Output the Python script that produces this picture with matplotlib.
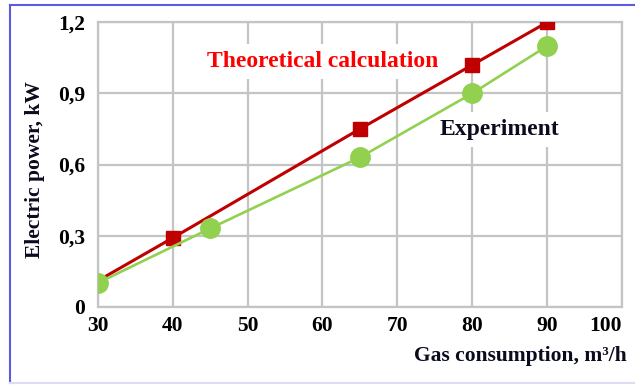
import matplotlib
matplotlib.use("Agg")
import matplotlib.pyplot as plt
from matplotlib.lines import Line2D

# gas consumption (m3/h) vs electric power (kW)
theory_x = [29.5, 40, 65, 80, 90]
theory_y = [0.10, 0.29, 0.75, 1.02, 1.20]
exp_x = [30, 45, 65, 80, 90]
exp_y = [0.10, 0.33, 0.63, 0.90, 1.10]

x_ticks = [30, 40, 50, 60, 70, 80, 90, 100]
y_ticks = [0, 0.3, 0.6, 0.9, 1.2]
y_labels = ["0", "0,3", "0,6", "0,9", "1,2"]

serif = ["Liberation Serif", "DejaVu Serif"]
plt.rcParams["font.family"] = serif
plt.rcParams["font.weight"] = "bold"

fig = plt.figure(figsize=(6.35, 3.85), dpi=100)
ax = fig.add_axes([0.1539, 0.2034, 0.8256, 0.7386])

ax.plot(theory_x, theory_y, color="#c00000", lw=2.2, marker="s",
        ms=10.3, mec="#c00000", mfc="#c00000", zorder=3)
ax.plot(exp_x, exp_y, color="#92d050", lw=1.9, marker="o",
        ms=14, mec="#92d050", mfc="#92d050", zorder=4)

ax.set_xlim(30, 100)
ax.set_ylim(0, 1.2)
ax.set_xticks(x_ticks)
ax.set_yticks(y_ticks)
ax.set_yticklabels(y_labels)
ax.tick_params(length=0, labelsize=15.5)
ax.tick_params(axis="x", pad=7)
ax.tick_params(axis="y", pad=9)
for lab in ax.get_xticklabels() + ax.get_yticklabels():
    lab.set_fontweight("bold")
# last label pulled inside so it isn't clipped
ax.get_xticklabels()[-1].set_horizontalalignment("right")

ax.grid(True, color="#c4c4c4", lw=1.6)
ax.set_axisbelow(True)
for s in ax.spines.values():
    s.set_color("#c4c4c4")
    s.set_linewidth(1.6)

ax.text(44.6, 1.034, "Theoretical calculation", color="#ff0000",
        fontsize=17, fontweight="bold", va="center", ha="left",
        bbox=dict(facecolor="white", edgecolor="none", pad=5), zorder=2)
ax.text(75.6, 0.747, "Experiment", color="#0b0b1e",
        fontsize=17, fontweight="bold", va="center", ha="left",
        bbox=dict(facecolor="white", edgecolor="none", pad=5), zorder=2)

fig.text(627 / 635, 1 - 356 / 385, "Gas consumption, m³/h",
         ha="right", va="center", fontsize=15.5, fontweight="bold",
         color="#0b0b1e")
fig.text(35 / 635, 1 - 170 / 385, "Electric power, kW", rotation=90,
         ha="center", va="center", fontsize=15.5, fontweight="bold",
         color="#0b0b1e")

# frame around the figure
fig.add_artist(Line2D([10 / 635, 10 / 635], [1 - 5 / 385, 1 - 383 / 385],
                      transform=fig.transFigure, color="#5b5be0", lw=1.5))
fig.add_artist(Line2D([10 / 635, 1], [1 - 5 / 385, 1 - 5 / 385],
                      transform=fig.transFigure, color="#5b5be0", lw=1.5))
fig.add_artist(Line2D([10 / 635, 1], [1 - 383 / 385, 1 - 383 / 385],
                      transform=fig.transFigure, color="#dcdcf5", lw=1.5))

fig.savefig("out.png", dpi=100)
